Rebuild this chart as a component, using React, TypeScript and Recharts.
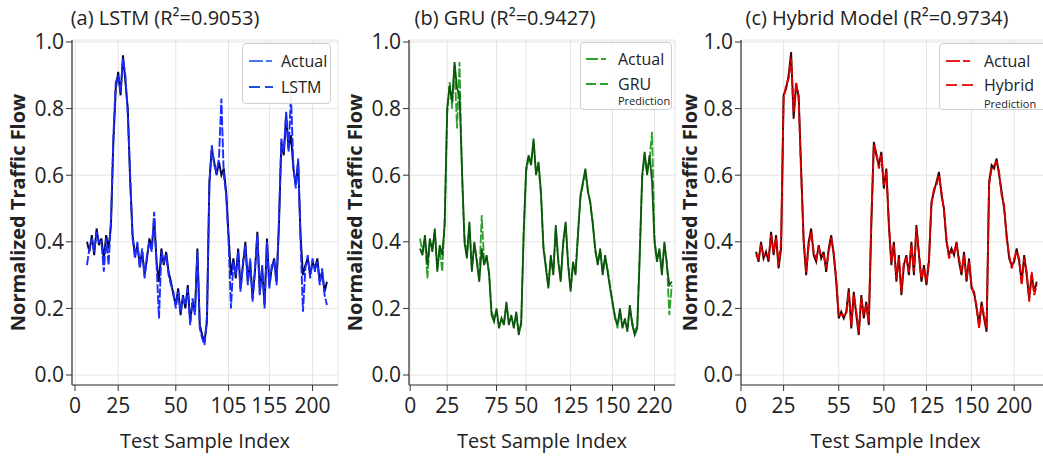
import React from 'react';
import { LineChart, Line, XAxis, YAxis, CartesianGrid, Legend, Label } from 'recharts';

const FONT = '"Open Sans", "Noto Sans", sans-serif';

// ---------- data ----------
const lstmActual = [
  0.40, 0.37, 0.42, 0.36, 0.44, 0.39, 0.41, 0.35, 0.42, 0.38,
  0.45, 0.70,
  0.86, 0.91, 0.84, 0.96, 0.88,
  0.80, 0.58,
  0.42, 0.36, 0.39, 0.33, 0.37, 0.30, 0.35, 0.41, 0.38, 0.47,
  0.34, 0.28, 0.38, 0.33, 0.37, 0.31,
  0.28, 0.24, 0.21,
  0.26, 0.18, 0.24, 0.20, 0.27, 0.16, 0.22, 0.19, 0.38, 0.15, 0.12, 0.10,
  0.16, 0.58, 0.68,
  0.64, 0.60, 0.64, 0.60, 0.62, 0.55,
  0.42, 0.30,
  0.35, 0.29, 0.38, 0.26, 0.33, 0.40, 0.28, 0.34, 0.23, 0.31, 0.43, 0.25, 0.32, 0.21, 0.41, 0.27, 0.32, 0.35, 0.28,
  0.45, 0.70,
  0.66, 0.78, 0.68, 0.72, 0.62, 0.57, 0.64,
  0.42, 0.30,
  0.33, 0.35, 0.30, 0.34, 0.32, 0.35, 0.28, 0.31, 0.25, 0.28,
];
const lstmPred = [
  0.33, 0.38, 0.41, 0.37, 0.43, 0.40, 0.40, 0.31, 0.41, 0.33,
  0.47, 0.72,
  0.88, 0.90, 0.85, 0.95, 0.90,
  0.78, 0.60,
  0.41, 0.35, 0.40, 0.32, 0.38, 0.29, 0.36, 0.40, 0.37, 0.49,
  0.33, 0.17, 0.37, 0.34, 0.36, 0.30,
  0.27, 0.25, 0.20,
  0.25, 0.19, 0.23, 0.21, 0.26, 0.15, 0.23, 0.18, 0.37, 0.14, 0.11, 0.09,
  0.18, 0.57, 0.69,
  0.63, 0.61, 0.65, 0.83, 0.60, 0.54,
  0.40, 0.20,
  0.34, 0.30, 0.37, 0.25, 0.34, 0.39, 0.27, 0.35, 0.22, 0.32, 0.42, 0.24, 0.33, 0.20, 0.40, 0.26, 0.33, 0.34, 0.27,
  0.47, 0.71,
  0.67, 0.79, 0.67, 0.84, 0.63, 0.56, 0.65,
  0.40, 0.19,
  0.32, 0.36, 0.29, 0.35, 0.31, 0.34, 0.27, 0.32, 0.24, 0.21,
];

const gruActual = [
  0.38, 0.36, 0.42, 0.33, 0.41, 0.37, 0.44, 0.31, 0.39, 0.36,
  0.45, 0.80,
  0.87, 0.82, 0.94, 0.86, 0.84,
  0.62, 0.40,
  0.35, 0.46, 0.31, 0.40, 0.34, 0.28, 0.38, 0.33, 0.36,
  0.30, 0.18,
  0.16, 0.20, 0.14, 0.17, 0.15, 0.22, 0.15, 0.18, 0.14, 0.19, 0.12, 0.16,
  0.42, 0.62,
  0.66, 0.63, 0.71, 0.60, 0.64,
  0.55, 0.38,
  0.32, 0.26, 0.36, 0.30, 0.45, 0.34, 0.28, 0.40, 0.46, 0.33, 0.25, 0.34, 0.30,
  0.42, 0.54,
  0.58, 0.62, 0.55, 0.52,
  0.45, 0.38, 0.33,
  0.38, 0.30, 0.36, 0.31, 0.26,
  0.22, 0.17, 0.15, 0.20, 0.14, 0.17, 0.13, 0.21, 0.15, 0.12, 0.14,
  0.35, 0.60,
  0.67, 0.60, 0.66, 0.58,
  0.40,
  0.34, 0.38, 0.30, 0.40, 0.33, 0.27, 0.28,
];
const gruPred = [
  0.41, 0.37, 0.41, 0.29, 0.40, 0.38, 0.43, 0.32, 0.38, 0.31,
  0.47, 0.78,
  0.88, 0.80, 0.93, 0.74, 0.94,
  0.60, 0.42,
  0.36, 0.45, 0.32, 0.39, 0.35, 0.29, 0.48, 0.34, 0.35,
  0.31, 0.19,
  0.17, 0.19, 0.15, 0.16, 0.16, 0.21, 0.16, 0.17, 0.15, 0.18, 0.13, 0.15,
  0.44, 0.61,
  0.65, 0.64, 0.70, 0.61, 0.63,
  0.54, 0.39,
  0.33, 0.27, 0.35, 0.31, 0.44, 0.35, 0.29, 0.39, 0.45, 0.34, 0.26, 0.33, 0.31,
  0.43, 0.53,
  0.57, 0.61, 0.56, 0.51,
  0.46, 0.37, 0.34,
  0.37, 0.31, 0.35, 0.32, 0.27,
  0.21, 0.18, 0.14, 0.19, 0.15, 0.16, 0.14, 0.20, 0.16, 0.13, 0.15,
  0.37, 0.59,
  0.66, 0.61, 0.65, 0.73,
  0.41,
  0.35, 0.37, 0.31, 0.39, 0.34, 0.18, 0.27,
];

const hybridActual = [
  0.37, 0.34, 0.40, 0.35, 0.37, 0.34, 0.43, 0.36, 0.42, 0.32,
  0.38, 0.84,
  0.86, 0.90, 0.97, 0.77, 0.87, 0.84,
  0.62, 0.40, 0.30,
  0.40, 0.44, 0.36, 0.34, 0.39, 0.35, 0.37, 0.31, 0.38, 0.42, 0.36,
  0.28, 0.17,
  0.19, 0.17, 0.19, 0.26, 0.14, 0.25, 0.18, 0.12, 0.24, 0.17, 0.22, 0.15,
  0.45, 0.70,
  0.66, 0.63, 0.67, 0.56, 0.62,
  0.45, 0.33,
  0.40, 0.28, 0.36, 0.24, 0.33, 0.36, 0.30, 0.40, 0.30, 0.45, 0.36, 0.28, 0.33, 0.27,
  0.34, 0.52,
  0.55, 0.58, 0.61, 0.54,
  0.50, 0.40, 0.36,
  0.38, 0.36, 0.40, 0.34, 0.30, 0.37, 0.28, 0.35, 0.26, 0.25,
  0.20, 0.15, 0.22, 0.17, 0.13,
  0.58, 0.63,
  0.62, 0.65, 0.60, 0.55, 0.50,
  0.42, 0.35,
  0.33, 0.34, 0.38, 0.34, 0.28, 0.36, 0.30, 0.23, 0.30, 0.25, 0.28,
];
const hybridPred = [
  0.36, 0.35, 0.39, 0.36, 0.36, 0.35, 0.42, 0.37, 0.41, 0.33,
  0.40, 0.83,
  0.87, 0.89, 0.95, 0.79, 0.88, 0.83,
  0.60, 0.41, 0.31,
  0.39, 0.43, 0.37, 0.35, 0.38, 0.36, 0.36, 0.32, 0.37, 0.41, 0.37,
  0.29, 0.18,
  0.18, 0.18, 0.18, 0.25, 0.15, 0.24, 0.19, 0.13, 0.23, 0.18, 0.21, 0.16,
  0.47, 0.69,
  0.67, 0.62, 0.66, 0.57, 0.61,
  0.46, 0.34,
  0.39, 0.29, 0.35, 0.25, 0.34, 0.35, 0.31, 0.39, 0.31, 0.44, 0.37, 0.29, 0.32, 0.28,
  0.35, 0.51,
  0.56, 0.57, 0.60, 0.55,
  0.49, 0.41, 0.35,
  0.37, 0.37, 0.39, 0.35, 0.31, 0.36, 0.29, 0.34, 0.27, 0.24,
  0.21, 0.14, 0.21, 0.18, 0.14,
  0.57, 0.62,
  0.63, 0.64, 0.61, 0.54, 0.51,
  0.41, 0.36,
  0.32, 0.35, 0.37, 0.35, 0.27, 0.35, 0.31, 0.22, 0.31, 0.24, 0.27,
];

const yTicks = [0, 0.2, 0.4, 0.6, 0.8, 1.0];
const ticksA = [-5, 13, 37, 59, 76, 94];
const tickLabelsA = ['0', '25', '50', '105', '155', '200'];
const ticksB = [-4, 11, 31, 43, 61, 78, 95];
const tickLabelsB = ['0', '25', '75', '50', '125', '150', '220'];
const ticksC = [-6, 11, 33, 51, 68, 86, 103];
const tickLabelsC = ['0', '25', '55', '50', '125', '150', '200'];

const buildRows = (actual: number[], pred: number[]) =>
  actual.map((a, i) => ({ idx: i, actual: a, pred: pred[i] }));

// ---------- components ----------
type Row = { y: number; color: string; dash: string; text: string };
type LegendCfg = {
  left: number; top: number; width: number; height: number;
  lineX: number; lineW: number; textX: number;
  rows: Row[]; sub?: { y: number; size: number; text: string };
};

function LegendBox({ cfg }: { cfg: LegendCfg }) {
  return (
    <div
      style={{
        position: 'relative', width: cfg.width, height: cfg.height,
        border: '1px solid #cfcfcf', borderRadius: 4, background: 'rgba(255,255,255,0.92)',
        boxSizing: 'border-box', fontFamily: FONT,
      }}
    >
      {cfg.rows.map((r, i) => (
        <React.Fragment key={i}>
          <svg style={{ position: 'absolute', left: cfg.lineX, top: r.y - 5 }} width={cfg.lineW} height={10}>
            <line x1={0} y1={5} x2={cfg.lineW} y2={5} stroke={r.color} strokeWidth={2} strokeDasharray={r.dash} />
          </svg>
          <div style={{ position: 'absolute', left: cfg.textX, top: r.y - 12, lineHeight: '24px', fontSize: 16, color: '#222', whiteSpace: 'nowrap' }}>
            {r.text}
          </div>
        </React.Fragment>
      ))}
      {cfg.sub && (
        <div style={{ position: 'absolute', left: cfg.textX, top: cfg.sub.y - 8, lineHeight: '16px', fontSize: cfg.sub.size, color: '#222', whiteSpace: 'nowrap' }}>
          {cfg.sub.text}
        </div>
      )}
    </div>
  );
}

type LineCfg = { key: string; color: string; width: number; dash?: string };
type PanelProps = {
  left: number; width: number; yAxisWidth: number; marginRight: number; ylabelOffset: number;
  data: { idx: number; actual: number; pred: number }[];
  domain: [number, number]; ticks: number[]; labels: string[];
  lines: LineCfg[]; legend: LegendCfg;
};

function Panel(p: PanelProps) {
  const tickStyle = { fill: '#222', fontSize: 21, fontFamily: FONT };
  const axisStroke = { stroke: '#333', strokeWidth: 1.2 };
  return (
    <div style={{ position: 'absolute', left: p.left, top: 0, width: p.width, height: 459 }}>
      <LineChart width={p.width} height={459} data={p.data} margin={{ top: 40, right: p.marginRight, bottom: 0, left: 0 }}>
        <CartesianGrid stroke="#e4e4e4" strokeWidth={1} />
        <XAxis
          dataKey="idx" type="number" domain={p.domain} allowDataOverflow ticks={p.ticks} interval={0}
          tickFormatter={(_v: number, i: number) => p.labels[i]}
          height={74} tickSize={6} tickMargin={7} tick={tickStyle}
          axisLine={axisStroke} tickLine={{ stroke: '#333' }}
        >
          <Label value="Test Sample Index" position="insideBottom" offset={11} style={{ fontSize: 20, fill: '#222', fontFamily: FONT }} />
        </XAxis>
        <XAxis xAxisId="top" orientation="top" type="number" domain={[0, 1]} height={0} tick={false} tickLine={false} axisLine={axisStroke} />
        <YAxis
          type="number" domain={[-0.03, 1.006]} allowDataOverflow ticks={yTicks} interval={0}
          tickFormatter={(v: number) => v.toFixed(1)}
          width={p.yAxisWidth} tickSize={6} tickMargin={2} tick={tickStyle}
          axisLine={axisStroke} tickLine={{ stroke: '#333' }}
        >
          <Label
            value="Normalized Traffic Flow" angle={-90} position="insideLeft" offset={p.ylabelOffset}
            style={{ textAnchor: 'middle', fontSize: 20, fontWeight: 700, fill: '#222', fontFamily: FONT }}
          />
        </YAxis>
        <YAxis yAxisId="right" orientation="right" type="number" domain={[0, 1]} width={0} tick={false} tickLine={false} axisLine={axisStroke} />
        <Legend
          layout="vertical" verticalAlign="middle" align="center"
          wrapperStyle={{ top: p.legend.top, left: p.legend.left, width: p.legend.width, height: p.legend.height }}
          content={() => <LegendBox cfg={p.legend} />}
        />
        {p.lines.map((l) => (
          <Line
            key={l.key} type="linear" dataKey={l.key} stroke={l.color} strokeWidth={l.width}
            strokeDasharray={l.dash} dot={false} activeDot={false} isAnimationActive={false} legendType="none"
          />
        ))}
      </LineChart>
    </div>
  );
}

const titleStyle = (cx: number): React.CSSProperties => ({
  position: 'absolute', left: cx - 200, width: 400, top: 4, textAlign: 'center',
  fontFamily: FONT, fontSize: 20, lineHeight: '28px', color: '#222', whiteSpace: 'nowrap',
});

export default function App() {
  return (
    <div style={{ position: 'absolute', left: 0, top: 0, width: 1043, height: 459, overflow: 'hidden', background: '#fff' }}>
      <Panel
        left={0} width={350} yAxisWidth={72} marginRight={12} ylabelOffset={18}
        data={buildRows(lstmActual, lstmPred)} domain={[-6.25, 104.6]} ticks={ticksA} labels={tickLabelsA}
        lines={[
          { key: 'actual', color: '#00003c', width: 1.9 },
          { key: 'pred', color: '#1a2cff', width: 1.9, dash: '9 2' },
        ]}
        legend={{
          left: 242, top: 43, width: 89, height: 61, lineX: 6, lineW: 24, textX: 38,
          rows: [
            { y: 17, color: '#4a78f0', dash: '14 3 6 3', text: 'Actual' },
            { y: 43, color: '#1f4fe0', dash: '11 5', text: 'LSTM' },
          ],
        }}
      />
      <Panel
        left={340} width={335 + 10} yAxisWidth={69} marginRight={10} ylabelOffset={15}
        data={buildRows(gruActual, gruPred)} domain={[-4.46, 103.3]} ticks={ticksB} labels={tickLabelsB}
        lines={[
          { key: 'pred', color: '#2e9e2e', width: 1.8, dash: '9 2' },
          { key: 'actual', color: '#0b560b', width: 1.8 },
        ]}
        legend={{
          left: 240, top: 42, width: 92, height: 68, lineX: 5, lineW: 22, textX: 37,
          rows: [
            { y: 16, color: '#2ca02c', dash: '12 3 5 3', text: 'Actual' },
            { y: 41, color: '#2ca02c', dash: '10 4', text: 'GRU' },
          ],
          sub: { y: 58, size: 11, text: 'Prediction' },
        }}
      />
      <Panel
        left={675} width={385} yAxisWidth={66} marginRight={10} ylabelOffset={15}
        data={buildRows(hybridActual, hybridPred)} domain={[-6, 117.3]} ticks={ticksC} labels={tickLabelsC}
        lines={[
          { key: 'actual', color: '#3c0000', width: 1.9 },
          { key: 'pred', color: '#e00000', width: 1.9, dash: '9 2' },
        ]}
        legend={{
          left: 264, top: 43, width: 130, height: 67, lineX: 6, lineW: 27, textX: 44,
          rows: [
            { y: 17, color: '#e82020', dash: '14 3 7 3', text: 'Actual' },
            { y: 41, color: '#e82020', dash: '11 5', text: 'Hybrid' },
          ],
          sub: { y: 60, size: 11, text: 'Prediction' },
        }}
      />
      <div style={titleStyle(165)}>(a) LSTM (R²=0.9053)</div>
      <div style={titleStyle(505)}>(b) GRU (R²=0.9427)</div>
      <div style={titleStyle(877)}>(c) Hybrid Model (R²=0.9734)</div>
    </div>
  );
}
